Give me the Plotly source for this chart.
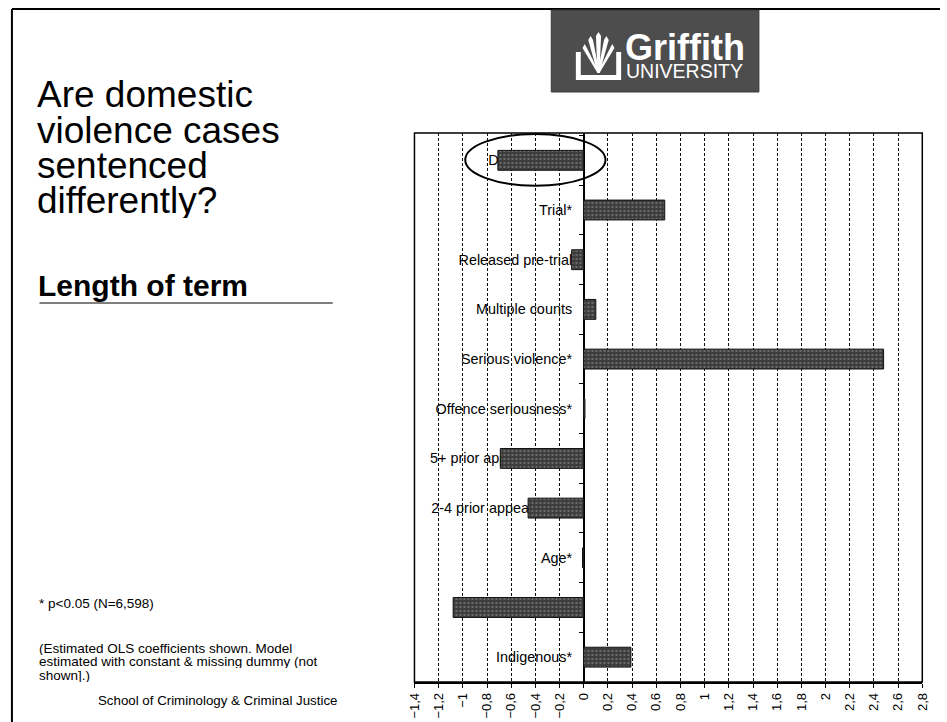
import plotly.graph_objects as go

# ---------------- data ----------------
categories = [
    "DV offences*",
    "Trial*",
    "Released pre-trial",
    "Multiple counts",
    "Serious violence*",
    "Offence seriousness*",
    "5+ prior appearances*",
    "2-4 prior appearances",
    "Age*",
    "Female*",
    "Indigenous*",
]
coefficients = [-0.71, 0.67, -0.10, 0.10, 2.48, 0.01, -0.69, -0.46, -0.01, -1.08, 0.39]

x_range = [-1.4, 2.8]
x_step = 0.2

title_lines = ["Are domestic", "violence cases", "sentenced", "differently?"]
subtitle = "Length of term"
note_sig = "* p<0.05 (N=6,598)"
note_lines = [
    "(Estimated OLS coefficients shown. Model",
    "estimated with constant & missing dummy (not",
    "shown].)",
]
footer = "School of Criminology & Criminal Justice"

# ---------------- layout helpers ----------------
W, H = 947, 722
FONT = "Liberation Sans, Arial, sans-serif"


def px(x):
    return x / W


def py(y):
    return 1 - y / H


x_dom = [px(413), px(929)]
y_dom = [py(682), py(133)]
zero_pos = x_dom[0] + (0 - x_range[0]) / (x_range[1] - x_range[0]) * (x_dom[1] - x_dom[0])

fig = go.Figure()
fig.add_trace(
    go.Bar(
        x=coefficients,
        y=categories,
        orientation="h",
        width=0.4,
        marker=dict(
            color="#3a3a3a",
            line=dict(color="#111111", width=1),
            pattern=dict(shape=".", fgcolor="#9a9a9a", bgcolor="#3a3a3a", size=4, solidity=0.3),
        ),
        showlegend=False,
        hoverinfo="x+y",
    )
)

shapes = []
# plot frame
shapes.append(dict(type="rect", xref="x domain", yref="y domain", x0=0, x1=1, y0=0, y1=1,
                   line=dict(color="black", width=1.5), layer="above"))
# ellipse highlighting the DV row
shapes.append(dict(type="circle", xref="x", yref="y", x0=coefficients[0] - 0.27, x1=0.18,
                   y0=-0.53, y1=0.51, line=dict(color="black", width=2)))
# slide border lines
shapes.append(dict(type="line", xref="paper", yref="paper", x0=px(4), x1=1, y0=py(9), y1=py(9),
                   line=dict(color="black", width=2)))
shapes.append(dict(type="line", xref="paper", yref="paper", x0=px(4), x1=px(4), y0=py(9), y1=0,
                   line=dict(color="black", width=2)))
# subtitle underline
shapes.append(dict(type="line", xref="paper", yref="paper", x0=px(32), x1=px(330), y0=py(303), y1=py(303),
                   line=dict(color="black", width=1)))
# logo box
shapes.append(dict(type="rect", xref="paper", yref="paper", x0=px(552), x1=px(763), y0=py(92), y1=py(10),
                   fillcolor="#4d4d4d", line=dict(color="#3a3a3a", width=1)))


def path_from(points):
    s = "M " + " L ".join(f"{px(a):.5f},{py(b):.5f}" for a, b in points) + " Z"
    return s


# logo icon: book base
shapes.append(dict(type="path", xref="paper", yref="paper",
                   path=path_from([(577, 52), (582, 52), (582, 75), (618, 75), (618, 52), (623, 52),
                                   (623, 80), (577, 80)]),
                   fillcolor="white", line=dict(width=0)))
# logo icon: fan of leaves
for tip, half in [((586, 44), 2.2), ((592, 36), 2.4), ((600, 32), 2.6), ((608, 36), 2.4), ((614, 44), 2.2)]:
    bx, by = 600, 73
    shapes.append(dict(type="path", xref="paper", yref="paper",
                       path=path_from([(bx - 1, by), (tip[0] - half, tip[1] + 4), (tip[0], tip[1]),
                                       (tip[0] + half, tip[1] + 4), (bx + 1, by)]),
                       fillcolor="white", line=dict(width=0)))

annotations = []
title_y = [95, 130, 165, 200]
for line, yy in zip(title_lines, title_y):
    annotations.append(dict(text=line, x=px(27), y=py(yy), xref="paper", yref="paper",
                            xanchor="left", yanchor="middle", showarrow=False, height=35,
                            font=dict(family=FONT, size=37, color="black")))
annotations.append(dict(text=f"<b>{subtitle}</b>", x=px(28), y=py(285), xref="paper", yref="paper",
                        xanchor="left", yanchor="middle", showarrow=False,
                        font=dict(family=FONT, size=30, color="black")))
annotations.append(dict(text=note_sig, x=px(29), y=py(603), xref="paper", yref="paper",
                        xanchor="left", yanchor="middle", showarrow=False,
                        font=dict(family=FONT, size=13.5, color="black")))
for i, line in enumerate(note_lines):
    annotations.append(dict(text=line, x=px(29), y=py(648 + 13.5 * i), xref="paper", yref="paper",
                            xanchor="left", yanchor="middle", showarrow=False, height=13,
                            font=dict(family=FONT, size=13.5, color="black")))
annotations.append(dict(text=footer, x=px(213), y=py(700), xref="paper", yref="paper",
                        xanchor="center", yanchor="middle", showarrow=False,
                        font=dict(family=FONT, size=13.3, color="black")))
# logo text
annotations.append(dict(text="<b>Griffith</b>", x=px(625), y=py(47), xref="paper", yref="paper",
                        xanchor="left", yanchor="middle", showarrow=False,
                        font=dict(family=FONT, size=36, color="white")))
annotations.append(dict(text="UNIVERSITY", x=px(626), y=py(71), xref="paper", yref="paper",
                        xanchor="left", yanchor="middle", showarrow=False,
                        font=dict(family=FONT, size=19.5, color="white")))

fig.update_layout(
    width=W,
    height=H,
    margin=dict(l=0, r=0, t=0, b=0),
    paper_bgcolor="white",
    plot_bgcolor="white",
    separators=", ",
    bargap=0.6,
    xaxis=dict(
        domain=x_dom,
        anchor="y",
        range=x_range,
        tick0=0,
        dtick=x_step,
        showgrid=True,
        gridcolor="#111111",
        gridwidth=1,
        griddash="3px,2px",
        zeroline=False,
        showline=True,
        linecolor="black",
        linewidth=1.5,
        ticks="outside",
        ticklen=4,
        tickcolor="black",
        tickangle=-90,
        tickfont=dict(family=FONT, size=13, color="black"),
    ),
    yaxis=dict(
        domain=y_dom,
        anchor="free",
        position=zero_pos,
        type="category",
        categoryorder="array",
        categoryarray=categories,
        autorange="reversed",
        showgrid=False,
        zeroline=False,
        showline=True,
        linecolor="black",
        linewidth=1.5,
        ticks="outside",
        ticklen=4,
        tickcolor="black",
        tickson="boundaries",
        layer="below traces",
        ticklabelstandoff=8,
        tickfont=dict(family=FONT, size=14.4, color="black"),
    ),
    shapes=shapes,
    annotations=annotations,
)

fig.write_html(
    "out.html",
    config={"displayModeBar": False},
    post_script="document.body.style.margin='0';document.body.style.overflow='hidden';",
)
